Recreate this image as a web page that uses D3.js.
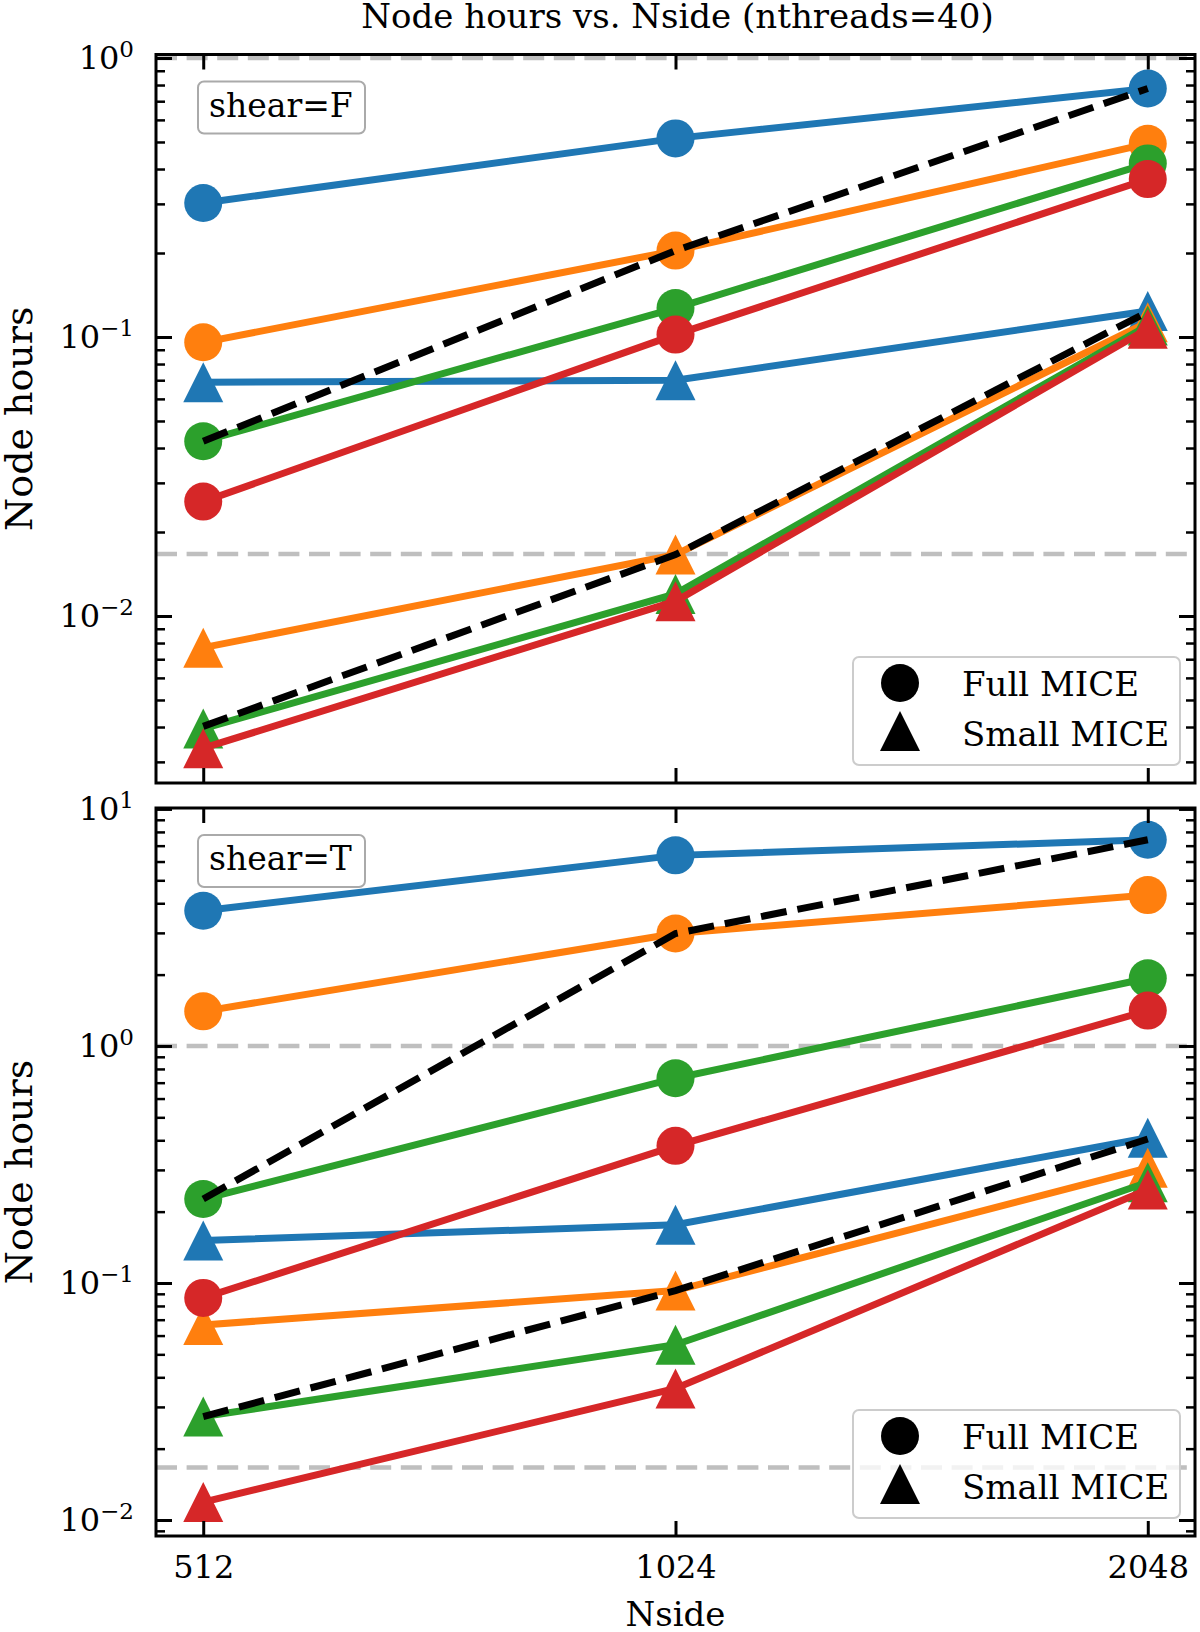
<!DOCTYPE html>
<html>
<head>
<meta charset="utf-8">
<script src="https://cdn.jsdelivr.net/npm/d3@7/dist/d3.min.js"></script>
<style>
body { margin: 0; background: #fff; }
text { font-family: "DejaVu Serif", serif; fill: #000; }
</style>
</head>
<body>
<script>
// x categories
var nside = [512, 1024, 2048];
var colors = ["#1f77b4", "#ff7f0e", "#2ca02c", "#d62728"];

// shear=F  (rows: blue, orange, green, red)
var fullF  = [[0.302, 0.515, 0.777], [0.0957, 0.204, 0.493], [0.0423, 0.127, 0.419], [0.0257, 0.102, 0.368]];
var smallF = [[0.0689, 0.0700, 0.124], [0.0077, 0.0166, 0.113], [0.00395, 0.0120, 0.110], [0.00336, 0.0113, 0.107]];
var bestFullF  = [0.0423, 0.204, 0.777];
var bestSmallF = [0.00402, 0.0166, 0.123];

// shear=T
var fullT  = [[3.72, 6.37, 7.41], [1.40, 2.98, 4.33], [0.226, 0.731, 1.93], [0.0865, 0.379, 1.41]];
var smallT = [[0.151, 0.176, 0.41], [0.0665, 0.0929, 0.306], [0.0273, 0.0549, 0.266], [0.0119, 0.0359, 0.248]];
var bestFullT  = [0.226, 2.98, 7.41];
var bestSmallT = [0.0273, 0.0929, 0.405];

var hlines = [1, 1 / 60];
var xTicks = [512, 1024, 2048];
var legendLabels = ["Full MICE", "Small MICE"];

var svg = d3.select("body").append("svg").attr("width", 1200).attr("height", 1632);

var left = 156, right = 1195;
var x = d3.scaleLog().base(2).domain([Math.pow(2, 8.9), Math.pow(2, 11.1)]).range([left, right]);

svg.append("text").attr("x", (left + right) / 2 + 2).attr("y", 28).attr("text-anchor", "middle")
	.style("font-size", "34px").text("Node hours vs. Nside (nthreads=40)");

function triangle(cx, cy, s) {
	return "M" + cx + "," + (cy - s / 2) + "L" + (cx + s / 2) + "," + (cy + s / 2) + "L" + (cx - s / 2) + "," + (cy + s / 2) + "Z";
}

function panel(top, bottom, lo, hi, full, small, bestFull, bestSmall, tag, showX) {
	var y = d3.scaleLog().domain([Math.pow(10, lo), Math.pow(10, hi)]).range([bottom, top]);
	var g = svg.append("g");

	// reference lines
	hlines.forEach(function (h) {
		g.append("line").attr("x1", left).attr("x2", right).attr("y1", y(h)).attr("y2", y(h))
			.attr("stroke", "#bfbfbf").attr("stroke-width", 4.5).attr("stroke-dasharray", "21,9.6");
	});

	var line = d3.line().x(function (d, i) { return x(nside[i]); }).y(function (d) { return y(d); });

	colors.forEach(function (c, k) {
		g.append("path").attr("d", line(full[k])).attr("fill", "none").attr("stroke", c).attr("stroke-width", 7);
		g.selectAll(null).data(full[k]).enter().append("circle")
			.attr("cx", function (d, i) { return x(nside[i]); }).attr("cy", function (d) { return y(d); })
			.attr("r", 19).attr("fill", c);
		g.append("path").attr("d", line(small[k])).attr("fill", "none").attr("stroke", c).attr("stroke-width", 7);
		g.selectAll(null).data(small[k]).enter().append("path")
			.attr("d", function (d, i) { return triangle(x(nside[i]), y(d), 40); }).attr("fill", c);
	});

	[bestFull, bestSmall].forEach(function (b) {
		g.append("path").attr("d", line(b)).attr("fill", "none").attr("stroke", "#000")
			.attr("stroke-width", 7).attr("stroke-dasharray", "26,11");
	});

	// ticks
	var majors = [], minors = [];
	for (var e = Math.floor(lo); e <= Math.ceil(hi); e++) {
		var p = Math.pow(10, e);
		if (e >= lo && e <= hi) majors.push(p);
		for (var j = 2; j < 10; j++) {
			var v = j * p;
			if (Math.log10(v) >= lo && Math.log10(v) <= hi) minors.push(v);
		}
	}

	var yl = g.append("g").attr("transform", "translate(" + left + ",0)")
		.call(d3.axisLeft(y).tickValues(majors).tickSize(-16).tickPadding(22).tickFormat(function () { return ""; }));
	yl.selectAll(".tick text").each(function (d) {
		var t = d3.select(this);
		var ex = Math.round(Math.log10(d));
		t.append("tspan").text("10");
		t.append("tspan").attr("dy", "-0.5em").style("font-size", "23px").text(String(ex).replace("-", "\u2212"));
	});
	var ym = g.append("g").attr("transform", "translate(" + left + ",0)")
		.call(d3.axisLeft(y).tickValues(minors).tickSize(-9).tickFormat(""));
	var yr = g.append("g").attr("transform", "translate(" + right + ",0)")
		.call(d3.axisRight(y).tickValues(majors).tickSize(-16).tickFormat(""));
	var yrm = g.append("g").attr("transform", "translate(" + right + ",0)")
		.call(d3.axisRight(y).tickValues(minors).tickSize(-9).tickFormat(""));
	var xt = g.append("g").attr("transform", "translate(0," + top + ")")
		.call(d3.axisTop(x).tickValues(xTicks).tickSize(-15).tickFormat(""));
	var xb = g.append("g").attr("transform", "translate(0," + bottom + ")")
		.call(d3.axisBottom(x).tickValues(xTicks).tickSize(-15).tickPadding(19)
			.tickFormat(showX ? function (d) { return d; } : function () { return ""; }));

	[yl, ym, yr, yrm, xt, xb].forEach(function (a) {
		a.select(".domain").remove();
		a.attr("font-family", null).attr("font-size", null);
		a.selectAll("text").style("font-size", "32px");
		a.selectAll("line").attr("stroke", "#000").attr("stroke-width", 3);
	});
	ym.selectAll("line").attr("stroke-width", 2.5);
	yrm.selectAll("line").attr("stroke-width", 2.5);

	g.append("rect").attr("x", left).attr("y", top).attr("width", right - left).attr("height", bottom - top)
		.attr("fill", "none").attr("stroke", "#000").attr("stroke-width", 3);

	// annotation box
	g.append("rect").attr("x", 198).attr("y", top + 27).attr("width", 167).attr("height", 52).attr("rx", 6)
		.attr("fill", "#fff").attr("stroke", "#aaa").attr("stroke-width", 2);
	g.append("text").attr("x", 209).attr("y", top + 62).style("font-size", "33px").text(tag);

	// legend
	var ly = bottom - 18 - 108;
	var lg = g.append("g");
	lg.append("rect").attr("x", 853).attr("y", ly).attr("width", 327).attr("height", 108).attr("rx", 6)
		.attr("fill", "#fff").attr("fill-opacity", 0.8).attr("stroke", "#ccc").attr("stroke-width", 2);
	lg.append("circle").attr("cx", 900).attr("cy", ly + 26).attr("r", 19).attr("fill", "#000");
	lg.append("path").attr("d", triangle(900, ly + 74, 40)).attr("fill", "#000");
	legendLabels.forEach(function (l, i) {
		lg.append("text").attr("x", 962).attr("y", ly + 39 + i * 50).style("font-size", "34px").text(l);
	});

	svg.append("text").attr("transform", "translate(32," + (top + bottom) / 2 + ") rotate(-90)")
		.attr("text-anchor", "middle").style("font-size", "38px").text("Node hours");
}

panel(54.5, 783, -2.5986, 0.0125, fullF, smallF, bestFullF, bestSmallF, "shear=F", false);
panel(808, 1536, -2.0675, 1.004, fullT, smallT, bestFullT, bestSmallT, "shear=T", true);

svg.append("text").attr("x", (left + right) / 2).attr("y", 1626).attr("text-anchor", "middle")
	.style("font-size", "34px").text("Nside");
</script>
</body>
</html>
